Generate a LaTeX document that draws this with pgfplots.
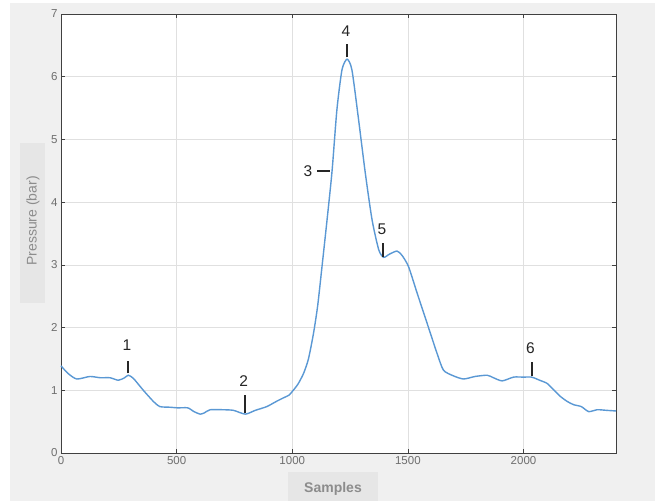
\documentclass[border=0pt]{standalone}
\usepackage{pgfplots}
\pgfplotsset{compat=1.18}
\usepackage{fontspec}
\setmainfont{Liberation Sans}
\definecolor{bgc}{HTML}{F0F0F0}
\definecolor{boxc}{HTML}{E6E6E6}
\definecolor{linec}{HTML}{5A98D4}
\definecolor{axc}{HTML}{404040}
\definecolor{tickc}{HTML}{6E6E6E}
\definecolor{labc}{HTML}{8C8C8C}
\definecolor{gridc}{HTML}{E0E0E0}
\begin{document}
\begin{tikzpicture}
\fill[white] (0bp,0bp) rectangle (659bp,501bp);
\fill[bgc] (10bp,0bp) rectangle (655bp,498bp);
\fill[boxc] (20bp,198bp) rectangle (45bp,358bp);
\fill[boxc] (288bp,0bp) rectangle (378bp,29bp);
\node[rotate=90, text=labc, font=\fontsize{14bp}{16bp}\selectfont] at (33bp,280bp) {Pressure (bar)};
\node[text=labc, font=\bfseries\fontsize{14bp}{16bp}\selectfont] at (333bp,12bp) {Samples};
\begin{axis}[
  at={(61bp,48bp)}, anchor=south west,
  scale only axis, width=555bp, height=439bp,
  xmin=0, xmax=2400, ymin=0, ymax=7,
  xtick={0,500,1000,1500,2000},
  ytick={0,1,2,3,4,5,6,7},
  axis background/.style={fill=white},
  grid=major,
  major grid style={gridc, line width=0.7bp},
  axis line style={axc, line width=0.9bp},
  tick style={axc, line width=0.6bp},
  tick align=inside,
  major tick length=4bp,
  tick label style={text=tickc, font=\fontsize{11.5bp}{13bp}\selectfont},
  /pgf/number format/assume math mode=true,
  /pgf/number format/1000 sep={},
  clip=false,
]
\addplot[linec, line width=1.4bp, smooth, tension=0.4] coordinates {
(0,1.39) (30,1.27) (68,1.18) (125,1.22) (170,1.20) (212,1.20) (248,1.16) (275,1.20)
(291,1.24) (313,1.19) (356,1.00) (400,0.82) (428,0.74) (470,0.73) (505,0.72) (548,0.72)
(575,0.66) (602,0.62) (620,0.64) (645,0.69) (700,0.69) (746,0.68) (797,0.62) (840,0.68)
(890,0.74) (930,0.82) (962,0.88) (985,0.92) (1000,0.98) (1025,1.10) (1049,1.27) (1070,1.50)
(1092,1.91) (1110,2.35) (1128,2.95) (1150,3.70) (1172,4.49) (1193,5.47) (1215,6.11) (1237,6.28)
(1258,6.11) (1287,5.31) (1316,4.46) (1345,3.72) (1374,3.24) (1395,3.12) (1420,3.17) (1453,3.22)
(1475,3.15) (1503,2.97) (1540,2.55) (1583,2.07) (1626,1.59) (1654,1.32) (1697,1.23) (1741,1.18)
(1790,1.22) (1843,1.24) (1870,1.20) (1908,1.15) (1957,1.21) (2000,1.21) (2035,1.21) (2070,1.16)
(2102,1.11) (2130,1.01) (2160,0.90) (2190,0.82) (2217,0.77) (2250,0.74) (2282,0.66) (2319,0.69)
(2360,0.68) (2400,0.67)
};
% annotation ticks
\addplot[black!85, line width=2bp] coordinates {(290,1.27) (290,1.47)};
\addplot[black!85, line width=2bp] coordinates {(795,0.64) (795,0.93)};
\addplot[black!85, line width=2bp] coordinates {(1108,4.49) (1165,4.49)};
\addplot[black!85, line width=2bp] coordinates {(1237,6.31) (1237,6.52)};
\addplot[black!85, line width=2bp] coordinates {(1393,3.13) (1393,3.35)};
\addplot[black!85, line width=2bp] coordinates {(2035,1.22) (2035,1.45)};
\begin{scope}[every node/.style={text=black!85, font=\fontsize{15.5bp}{17bp}\selectfont}]
\node at (axis cs:285,1.72) {1};
\node at (axis cs:790,1.15) {2};
\node at (axis cs:1068,4.49) {3};
\node at (axis cs:1232,6.73) {4};
\node at (axis cs:1388,3.57) {5};
\node at (axis cs:2030,1.67) {6};
\end{scope}
\end{axis}
\end{tikzpicture}
\end{document}
